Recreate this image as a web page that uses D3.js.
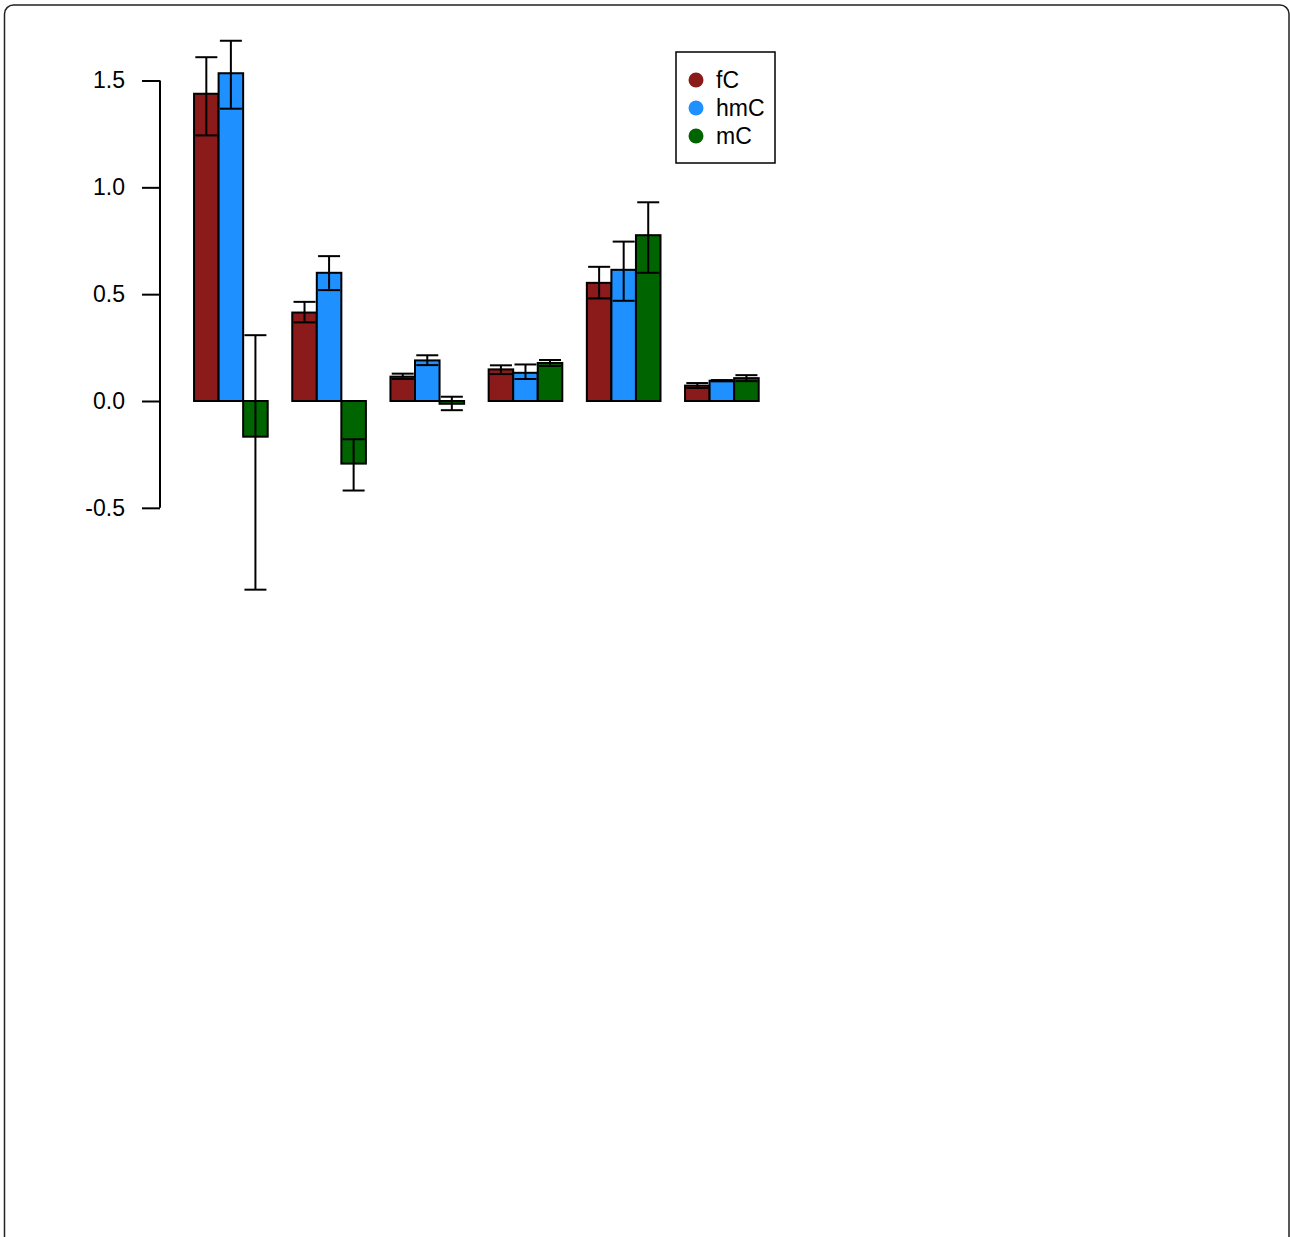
<!DOCTYPE html>
<html>
<head>
<meta charset="utf-8">
<script src="https://cdn.jsdelivr.net/npm/d3@7"></script>
<style>
  html, body { margin: 0; padding: 0; background: #fff; }
  svg { display: block; }
  text { font-family: "Liberation Sans", Arial, Helvetica, sans-serif; }
</style>
</head>
<body>
<div id="chart"></div>
<script>
// ---- data ----
const groups = ["G1", "G2", "G3", "G4", "G5", "G6"];
const seriesNames = ["fC", "hmC", "mC"];
const seriesColors = ["#8B1A1A", "#1E90FF", "#006400"];

const fCValues  = [1.438, 0.414, 0.114, 0.148, 0.553, 0.072];
const fCUpper   = [1.609, 0.464, 0.128, 0.167, 0.628, 0.084];
const fCLower   = [1.243, 0.368, 0.103, 0.126, 0.480, 0.061];

const hmCValues = [1.534, 0.600, 0.190, 0.132, 0.614, 0.095];
const hmCUpper  = [1.686, 0.678, 0.214, 0.171, 0.746, 0.098];
const hmCLower  = [1.368, 0.519, 0.168, 0.103, 0.469, 0.092];

const mCValues  = [-0.167, -0.293, -0.013, 0.178, 0.776, 0.107];
const mCUpper   = [0.308, -0.179, 0.020, 0.192, 0.930, 0.121];
const mCLower   = [-0.883, -0.419, -0.043, 0.164, 0.600, 0.093];

const yTicks = [-0.5, 0.0, 0.5, 1.0, 1.5];
const yTickLabels = ["-0.5", "0.0", "0.5", "1.0", "1.5"];

// ---- build table ----
const valueSets = [fCValues, hmCValues, mCValues];
const upperSets = [fCUpper, hmCUpper, mCUpper];
const lowerSets = [fCLower, hmCLower, mCLower];
const bars = [];
groups.forEach((g, gi) => {
  seriesNames.forEach((s, si) => {
    bars.push({
      group: gi, series: si,
      value: valueSets[si][gi],
      upper: upperSets[si][gi],
      lower: lowerSets[si][gi],
      pos: 1 + gi * 4 + si
    });
  });
});

// ---- layout ----
const W = 1290, H = 1237;
const svg = d3.select("#chart").append("svg").attr("width", W).attr("height", H);

// outer rounded frame
svg.append("rect")
  .attr("x", 4.5).attr("y", 5)
  .attr("width", 1284.5).attr("height", 1260)
  .attr("rx", 9).attr("ry", 9)
  .attr("fill", "none").attr("stroke", "#222").attr("stroke-width", 1.5);

const x = d3.scaleLinear().domain([0, 24]).range([169.5, 169.5 + 24 * 24.55]);
const y = d3.scaleLinear().domain([0, 1.5]).range([401, 80.5]);

// axis
const axisX = 160;
const axisG = svg.append("g").attr("transform", `translate(${axisX},0)`);
axisG.call(d3.axisLeft(y).tickValues(yTicks)
  .tickFormat((d, i) => yTickLabels[i])
  .tickSize(18).tickPadding(17).tickSizeOuter(0));
axisG.select(".domain").remove();
axisG.append("line")
  .attr("x1", 0).attr("x2", 0)
  .attr("y1", y(d3.min(yTicks))).attr("y2", y(d3.max(yTicks)))
  .attr("stroke", "#000").attr("stroke-width", 2);
axisG.selectAll(".tick line").attr("stroke", "#000").attr("stroke-width", 2);
axisG.selectAll(".tick text")
  .attr("fill", "#000")
  .style("font-size", "23px")
  .style("font-family", "'Liberation Sans', Arial, Helvetica, sans-serif");

// bars
svg.append("g").selectAll("rect").data(bars).join("rect")
  .attr("x", d => x(d.pos))
  .attr("width", d => x(d.pos + 1) - x(d.pos))
  .attr("y", d => y(Math.max(0, d.value)))
  .attr("height", d => Math.abs(y(d.value) - y(0)))
  .attr("fill", d => seriesColors[d.series])
  .attr("stroke", "#000").attr("stroke-width", 2);

// error bars
const cap = 11;
const eg = svg.append("g").attr("stroke", "#000").attr("stroke-width", 2);
bars.forEach(d => {
  const cx = x(d.pos + 0.5);
  eg.append("line").attr("x1", cx).attr("x2", cx).attr("y1", y(d.lower)).attr("y2", y(d.upper));
  eg.append("line").attr("x1", cx - cap).attr("x2", cx + cap).attr("y1", y(d.upper)).attr("y2", y(d.upper));
  eg.append("line").attr("x1", cx - cap).attr("x2", cx + cap).attr("y1", y(d.lower)).attr("y2", y(d.lower));
});

// legend
const lg = svg.append("g");
lg.append("rect").attr("x", 676).attr("y", 52).attr("width", 99).attr("height", 111)
  .attr("fill", "#fff").attr("stroke", "#000").attr("stroke-width", 1.5);
seriesNames.forEach((s, i) => {
  const cy = 80 + i * 28;
  lg.append("circle").attr("cx", 696).attr("cy", cy).attr("r", 7.5).attr("fill", seriesColors[i]);
  lg.append("text").attr("x", 716).attr("y", cy).attr("dy", "0.35em")
    .style("font-size", "23px").attr("fill", "#000").text(s);
});
</script>
</body>
</html>
